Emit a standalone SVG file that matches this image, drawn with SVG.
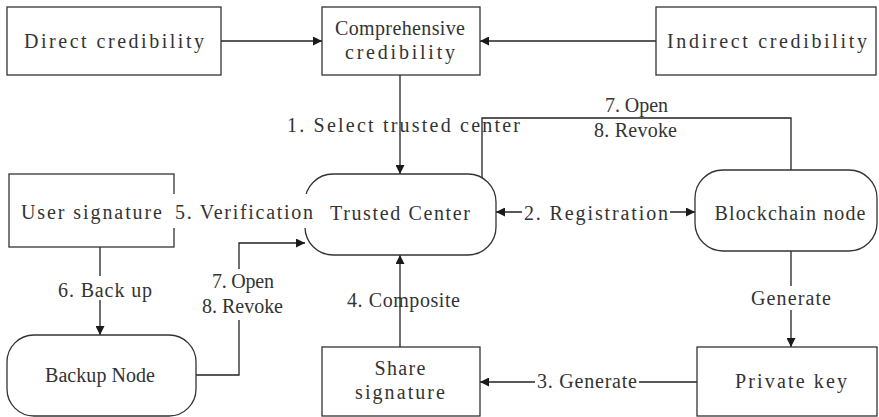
<svg xmlns="http://www.w3.org/2000/svg" width="879" height="417" viewBox="0 0 879 417">
<defs>
<marker id="arr" viewBox="0 0 10 10" refX="10" refY="5" markerWidth="11" markerHeight="9" markerUnits="userSpaceOnUse" orient="auto-start-reverse">
<path d="M0,0 L10,5 L0,10 z" fill="#1a1a1a"/>
</marker>
<style>
.box{fill:#fff;stroke:#333;stroke-width:1.3}
.ln{fill:none;stroke:#222;stroke-width:1.3}
.t{font-family:"Liberation Serif",serif;font-size:20px;fill:#333;text-anchor:middle}
.bg{fill:#fff}
</style>
</defs>
<rect width="879" height="417" fill="#fff"/>
<g id="connectors">
<line class="ln" x1="221" y1="41" x2="322" y2="41" marker-end="url(#arr)"/>
<line class="ln" x1="656" y1="41" x2="480" y2="41" marker-end="url(#arr)"/>
<line class="ln" x1="400" y1="75" x2="400" y2="174" marker-end="url(#arr)"/>
<line class="ln" x1="496" y1="212" x2="695" y2="212" marker-start="url(#arr)" marker-end="url(#arr)"/>
<path class="ln" d="M482,190 V118 H791 V180"/>
<line class="ln" x1="791" y1="251" x2="791" y2="347" marker-end="url(#arr)"/>
<line class="ln" x1="697" y1="382" x2="480" y2="382" marker-end="url(#arr)"/>
<line class="ln" x1="400" y1="347" x2="400" y2="255" marker-end="url(#arr)"/>
<line class="ln" x1="174" y1="212" x2="305" y2="212"/>
<line class="ln" x1="100" y1="247" x2="100" y2="335" marker-end="url(#arr)"/>
<path class="ln" d="M196,375 H239 V243 H305" marker-end="url(#arr)"/>
</g>
<g id="direct">
<rect class="box" x="7" y="7" width="214" height="68"/>
<text class="t" x="114" y="48" textLength="180" lengthAdjust="spacing">Direct credibility</text>
</g>
<g id="comprehensive">
<rect class="box" x="322" y="7" width="158" height="68"/>
<text class="t" x="400" y="35" textLength="130" lengthAdjust="spacing">Comprehensive</text>
<text class="t" x="400" y="59" textLength="110" lengthAdjust="spacing">credibility</text>
</g>
<g id="indirect">
<rect class="box" x="656" y="7" width="220" height="68"/>
<text class="t" x="767" y="48" textLength="200" lengthAdjust="spacing">Indirect credibility</text>
</g>
<g id="trusted">
<rect class="box" x="305" y="174" width="191" height="81" rx="28" ry="28"/>
<text class="t" x="400" y="220" textLength="140" lengthAdjust="spacing">Trusted Center</text>
</g>
<g id="blockchain">
<rect class="box" x="695" y="170" width="182" height="81" rx="28" ry="28"/>
<text class="t" x="790" y="220" textLength="151" lengthAdjust="spacing">Blockchain node</text>
</g>
<g id="privatekey">
<rect class="box" x="697" y="347" width="180" height="69"/>
<text class="t" x="791" y="388" textLength="112" lengthAdjust="spacing">Private key</text>
</g>
<g id="share">
<rect class="box" x="322" y="347" width="158" height="69"/>
<text class="t" x="400" y="375" textLength="51" lengthAdjust="spacing">Share</text>
<text class="t" x="400" y="399" textLength="90" lengthAdjust="spacing">signature</text>
</g>
<g id="usersig">
<rect class="box" x="9" y="174" width="165" height="73"/>
<text class="t" x="91.5" y="219" textLength="141" lengthAdjust="spacing">User signature</text>
</g>
<g id="backup">
<rect class="box" x="7" y="335" width="189" height="81" rx="27" ry="27"/>
<text class="t" x="100" y="382" textLength="110" lengthAdjust="spacing">Backup Node</text>
</g>
<g id="labels">
<text class="t" x="403.5" y="132" textLength="233" lengthAdjust="spacing">1. Select trusted center</text>
<text class="t" x="636.5" y="112" textLength="63" lengthAdjust="spacing">7. Open</text>
<text class="t" x="635.5" y="137" textLength="83" lengthAdjust="spacing">8. Revoke</text>
<rect class="bg" x="522" y="200" width="148" height="24"/>
<text class="t" x="596" y="220" textLength="144" lengthAdjust="spacing">2. Registration</text>
<rect class="bg" x="745" y="286" width="92" height="24"/>
<text class="t" x="791" y="305" textLength="80" lengthAdjust="spacing">Generate</text>
<rect class="bg" x="535" y="370" width="104" height="24"/>
<text class="t" x="587" y="388" textLength="100" lengthAdjust="spacing">3. Generate</text>
<text class="t" x="403.5" y="307" textLength="113" lengthAdjust="spacing">4. Composite</text>
<rect class="bg" x="172" y="194" width="144" height="34"/>
<text class="t" x="244" y="219" textLength="138" lengthAdjust="spacing">5. Verification</text>
<rect class="bg" x="55" y="276" width="100" height="24"/>
<text class="t" x="105" y="297" textLength="94" lengthAdjust="spacing">6. Back up</text>
<rect class="bg" x="200" y="269" width="86" height="51"/>
<text class="t" x="243" y="288" textLength="62" lengthAdjust="spacing">7. Open</text>
<text class="t" x="242.5" y="313" textLength="81" lengthAdjust="spacing">8. Revoke</text>
</g>
</svg>
